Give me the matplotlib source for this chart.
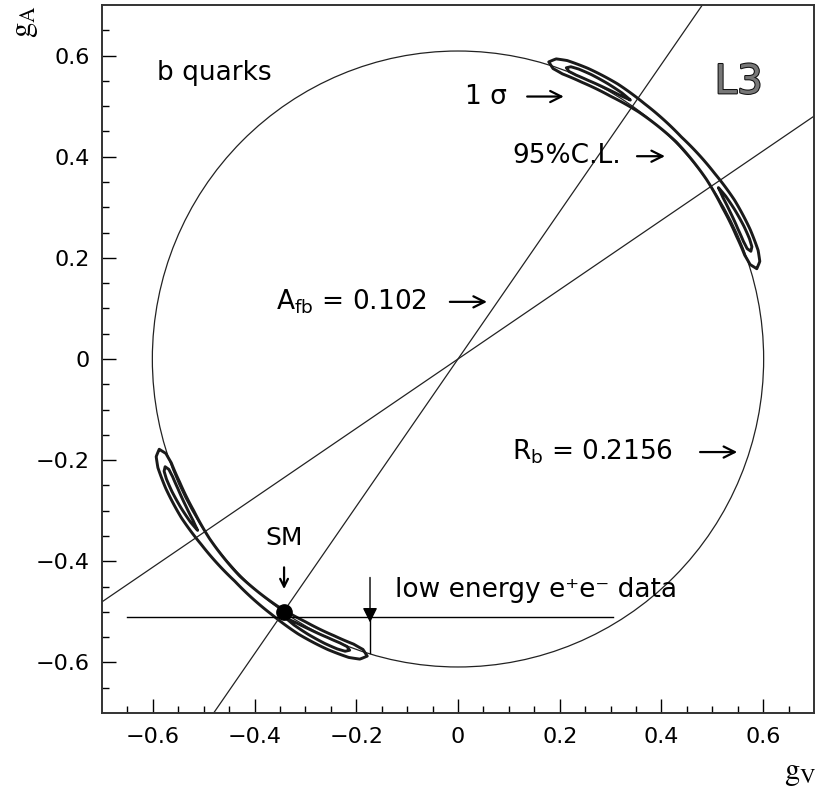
import numpy as np
import matplotlib.pyplot as plt
import matplotlib.patheffects as pe
from matplotlib.patches import Ellipse, Polygon

plt.rcParams['font.family'] = ['DejaVu Sans']
plt.rcParams['mathtext.fontset'] = 'stix'

# R_b = 0.2156 constraint: ellipse semi-axes in (gV, gA)
rb_axes = [0.601, 0.609]
# A_fb = 0.102 constraint: two lines gA = k * gV
afb_slopes = [1.457, 0.686]
# Standard Model point
sm_point = [-0.342, -0.500]
# low energy e+e- data
low_gv = -0.173
low_ga = -0.511
low_ga_range = [-0.650, 0.305]   # horizontal band of gV
low_gv_arrow = [-0.432, -0.581]  # vertical marker

# 95% C.L. contour, first-quadrant branch (angle in deg, inner / outer radius)
cl95_theta = [16.9, 18.0, 20, 24, 30, 36, 45, 54, 60, 66, 70, 72.0, 73.1]
cl95_rin = [0.614, 0.604, 0.600, 0.599, 0.600, 0.604, 0.607, 0.604, 0.600, 0.599, 0.600, 0.604, 0.614]
cl95_rout = [0.614, 0.624, 0.628, 0.629, 0.628, 0.624, 0.621, 0.624, 0.628, 0.629, 0.628, 0.624, 0.614]

# 1 sigma islands (angle in deg, half width around r = sig_r)
sig_r = 0.614
sig_theta = [56.5, 58.5, 61.5, 65, 67.5, 69, 69.7]
sig_half = [0.0, 0.003, 0.005, 0.0065, 0.0065, 0.005, 0.0]


def band(theta, r_in, r_out, shift=0.0):
    t = np.linspace(theta[0], theta[-1], 200)
    ri = np.interp(t, theta, r_in)
    ro = np.interp(t, theta, r_out)
    a = np.radians(t + shift)
    x = np.concatenate([ro * np.cos(a), (ri * np.cos(a))[::-1]])
    y = np.concatenate([ro * np.sin(a), (ri * np.sin(a))[::-1]])
    return np.column_stack([x, y])


fig = plt.figure(figsize=(8.17, 7.93), dpi=100)
ax = fig.add_axes([102 / 817, 80 / 793, 712 / 817, 708 / 793])
ax.set_xlim(-0.7, 0.7)
ax.set_ylim(-0.7, 0.7)

# R_b ellipse
ax.add_patch(Ellipse((0, 0), 2 * rb_axes[0], 2 * rb_axes[1], fill=False,
                     lw=0.9, color='#222222'))
# A_fb lines
for k in afb_slopes:
    ax.axline((0, 0), slope=k, lw=0.9, color='#222222')

# low energy data
ax.plot(low_ga_range, [low_ga, low_ga], lw=1.0, color='black')
ax.annotate('', xy=(low_gv, low_ga - 0.01), xytext=(low_gv, low_gv_arrow[0]),
            arrowprops=dict(arrowstyle='-|>', lw=1.0, color='black',
                            mutation_scale=22, shrinkA=0, shrinkB=0))
ax.plot([low_gv, low_gv], [low_ga, low_gv_arrow[1]], lw=1.0, color='black')

# contours, both sign branches
sig_lo = [sig_r - h for h in sig_half]
sig_hi = [sig_r + h for h in sig_half]
sig_theta2 = [90 - t for t in sig_theta[::-1]]
for shift in (0.0, 180.0):
    ax.add_patch(Polygon(band(cl95_theta, cl95_rin, cl95_rout, shift), closed=True,
                         fill=False, lw=2.1, ec='#1a1a1a', joinstyle='round'))
    ax.add_patch(Polygon(band(sig_theta, sig_lo, sig_hi, shift), closed=True,
                         fill=False, lw=2.1, ec='#1a1a1a', joinstyle='round'))
    ax.add_patch(Polygon(band(sig_theta2, sig_lo[::-1], sig_hi[::-1], shift), closed=True,
                         fill=False, lw=2.1, ec='#1a1a1a', joinstyle='round'))

# SM point
ax.plot(sm_point[0], sm_point[1], 'o', ms=11, color='black')
ax.text(sm_point[0], -0.354, 'SM', fontsize=18, ha='center', va='center')
ax.annotate('', xy=(sm_point[0], -0.455), xytext=(sm_point[0], -0.412),
            arrowprops=dict(arrowstyle='->', lw=1.6, color='black',
                            mutation_scale=14, shrinkA=0, shrinkB=0))

# labels with arrows
def label_arrow(x, y, s, x0, x1):
    ax.text(x, y, s, fontsize=19, ha='left', va='center')
    ax.annotate('', xy=(x1, y), xytext=(x0, y),
                arrowprops=dict(arrowstyle='->', lw=1.6, color='black',
                                mutation_scale=20, shrinkA=0, shrinkB=0))

label_arrow(0.014, 0.519, '1 σ', 0.136, 0.208)
label_arrow(0.106, 0.401, '95%C.L.', 0.352, 0.407)
label_arrow(-0.358, 0.113, r'$\mathregular{A_{fb}}$ = 0.102', -0.016, 0.057)
label_arrow(0.106, -0.184, r'$\mathregular{R_b}$ = 0.2156', 0.476, 0.549)

ax.text(-0.592, 0.566, 'b quarks', fontsize=19, ha='left', va='center')
ax.text(-0.124, -0.457, 'low energy e⁺e⁻ data', fontsize=19,
        ha='left', va='center')
ax.text(0.552, 0.547, 'L3', fontsize=29, ha='center', va='center', color='#777777',
        path_effects=[pe.withStroke(linewidth=1.5, foreground='#111111')])

# axes styling
for sp in ax.spines.values():
    sp.set_linewidth(1.4)
    sp.set_color('#333333')
ax.set_xticks(np.arange(-0.6, 0.61, 0.2))
ax.set_yticks(np.arange(-0.6, 0.61, 0.2))
ax.set_xticks(np.arange(-0.65, 0.7, 0.05), minor=True)
ax.set_yticks(np.arange(-0.65, 0.7, 0.05), minor=True)
ax.set_xticklabels(['\u22120.6', '\u22120.4', '\u22120.2', '0', '0.2', '0.4', '0.6'])
ax.set_yticklabels(['\u22120.6', '\u22120.4', '\u22120.2', '0', '0.2', '0.4', '0.6'])
ax.tick_params(which='major', direction='in', length=10, width=1.0, labelsize=16)
ax.tick_params(which='minor', direction='in', length=5, width=1.0)
ax.tick_params(axis='x', pad=10)
ax.tick_params(axis='y', pad=9)

fig.text(800 / 817, 1 - 773 / 793, r'$\mathrm{g_V}$', fontsize=22, ha='center', va='center')
fig.text(25 / 817, 1 - 22 / 793, r'$\mathrm{g_A}$', fontsize=22, ha='center', va='center',
         rotation=90)

fig.savefig('out.png', dpi=100)
